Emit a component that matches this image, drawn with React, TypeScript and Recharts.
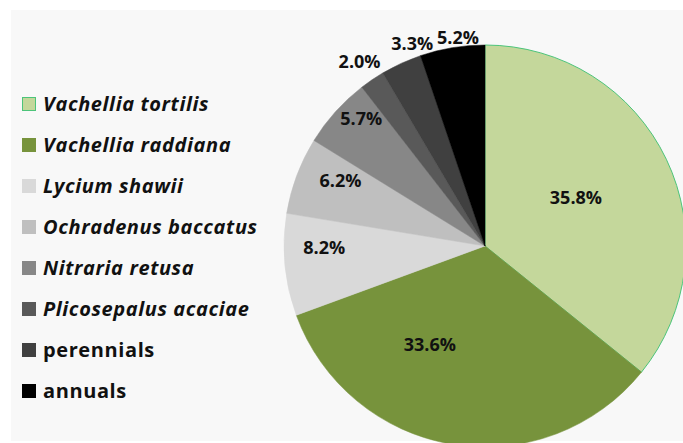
import { PieChart, Pie, Cell } from 'recharts';

const species = [
  'Vachellia tortilis',
  'Vachellia raddiana',
  'Lycium shawii',
  'Ochradenus baccatus',
  'Nitraria retusa',
  'Plicosepalus acaciae',
  'perennials',
  'annuals',
];
const shares = [35.8, 33.6, 8.2, 6.2, 5.7, 2.0, 3.3, 5.2];
const italicNames = [true, true, true, true, true, true, false, false];

const fills = ['#c4d79b', '#77933c', '#d9d9d9', '#bfbfbf', '#878787', '#595959', '#404040', '#000000'];
// label placement: fraction of radius, and a small clockwise nudge in degrees
const labelPos = [0.515, 0.56, 0.8, 0.79, 0.885, 1.11, 1.075, 1.05];
const labelNudge = [-3, 20, 5, 4, 4, 0, 5, 2];

const RAD = Math.PI / 180;

function renderLabel(props: any) {
  const { cx, cy, midAngle, outerRadius, index, value } = props;
  const r = outerRadius * labelPos[index];
  const a = (midAngle - labelNudge[index]) * RAD;
  const x = cx + r * Math.cos(-a);
  const y = cy + r * Math.sin(-a);
  return (
    <text
      x={x}
      y={y}
      textAnchor="middle"
      dominantBaseline="central"
      fill="#111"
      fontFamily="'Open Sans', sans-serif"
      fontWeight={700}
      fontSize={18}
    >
      {value.toFixed(1)}%
    </text>
  );
}

function LegendList() {
  return (
    <div
      style={{
        position: 'absolute',
        left: 22,
        top: 83,
        fontFamily: "'Open Sans', sans-serif",
        fontWeight: 700,
        fontSize: 20,
        letterSpacing: 0.6,
        color: '#111',
      }}
    >
      {species.map((name, i) => (
        <div key={name} style={{ height: 41, display: 'flex', alignItems: 'center' }}>
          <span
            style={{
              width: i === 0 ? 12 : 14,
              height: i === 0 ? 12 : 14,
              background: fills[i],
              border: i === 0 ? '1px solid #4cc47a' : 'none',
              marginRight: 7,
              display: 'inline-block',
            }}
          />
          <span style={{ fontStyle: italicNames[i] ? 'italic' : 'normal' }}>{name}</span>
        </div>
      ))}
    </div>
  );
}

export default function App() {
  const data = species.map((name, i) => ({ name, value: shares[i] }));
  return (
    <div style={{ position: 'absolute', left: 0, top: 0, width: 683, height: 443, background: '#fff', overflow: 'hidden' }}>
      <div style={{ position: 'absolute', left: 11, top: 10, width: 672, height: 431, background: '#f8f8f8' }} />
      <div style={{ position: 'absolute', left: 0, top: 0 }}>
        <PieChart width={683} height={443} margin={{ top: 0, right: 0, bottom: 0, left: 0 }}>
          <Pie
            data={data}
            dataKey="value"
            nameKey="name"
            cx={485}
            cy={246}
            outerRadius={201}
            startAngle={90}
            endAngle={-270}
            label={renderLabel}
            labelLine={false}
            isAnimationActive={false}
          >
            {data.map((d, i) => (
              <Cell key={d.name} fill={fills[i]} stroke={i === 0 ? '#4cc47a' : fills[i]} strokeWidth={i === 0 ? 1 : 0.5} />
            ))}
          </Pie>
        </PieChart>
      </div>
      <LegendList />
    </div>
  );
}
